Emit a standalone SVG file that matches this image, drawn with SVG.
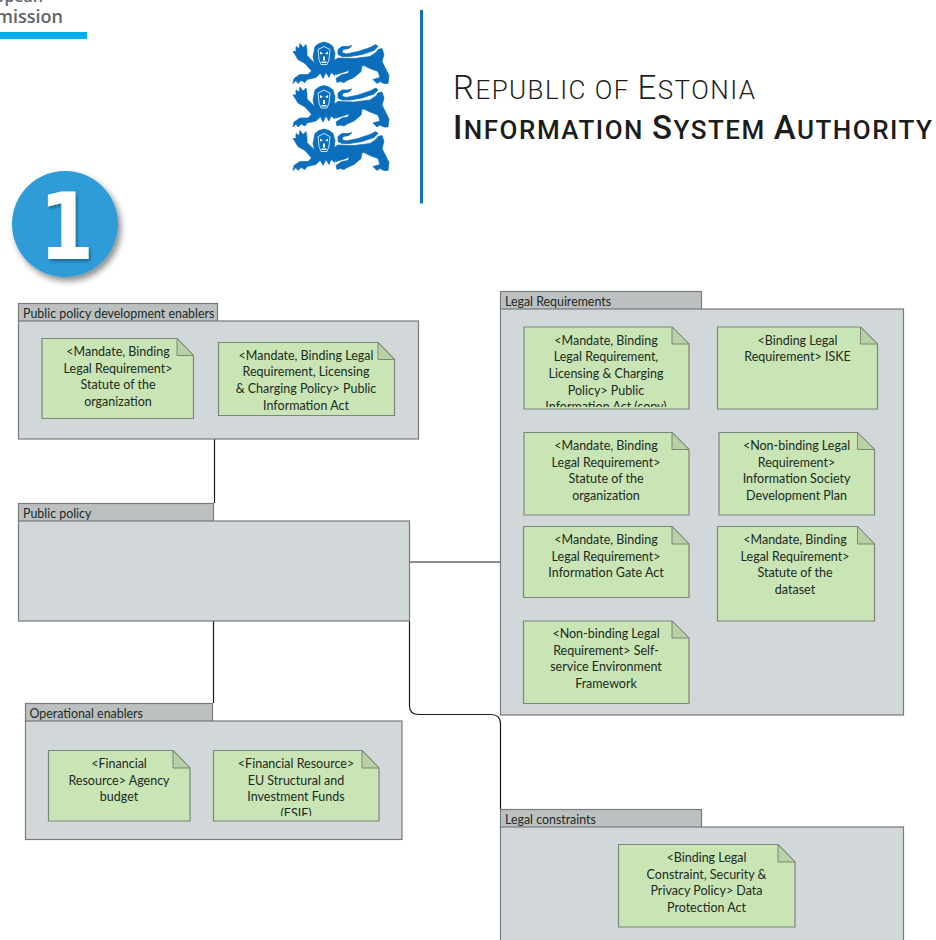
<svg xmlns="http://www.w3.org/2000/svg" xmlns:xlink="http://www.w3.org/1999/xlink" width="936" height="940" viewBox="0 0 936 940">
<style>
.body{fill:#d2d8d9;stroke:#777b7c;stroke-width:1.2}
.tab{fill:#bcc0c1;stroke:#777b7c;stroke-width:1.2}
.note{fill:#c9e5b5;stroke:#7b857b;stroke-width:1.2}
.fold{fill:#b9d0a5;stroke:#7b857b;stroke-width:1}
.t{font-family:"Lato","Liberation Sans",sans-serif;font-size:12.5px;fill:#1b2a22;text-anchor:middle}
.l{font-family:"Lato","Liberation Sans",sans-serif;font-size:12.4px;fill:#1b2a22}
.c{fill:none;stroke:#1a1a1a;stroke-width:1.2}
.h{font-family:"Roboto","Liberation Sans",sans-serif;fill:#1c1c1c}
</style>
<defs>
<filter id="sh" x="-30%" y="-30%" width="170%" height="170%"><feDropShadow dx="3" dy="4" stdDeviation="3" flood-color="#000" flood-opacity=".45"/></filter>
<filter id="sh2" x="-30%" y="-30%" width="170%" height="170%"><feDropShadow dx="2" dy="2" stdDeviation="1.5" flood-color="#0a3f66" flood-opacity=".6"/></filter>
<clipPath id="ca"><rect x="524" y="327" width="165" height="80"/></clipPath>
<clipPath id="ci"><rect x="213" y="750" width="167" height="66"/></clipPath>
<g id="lion">
<path fill="#0a6ebd" stroke="#0a6ebd" stroke-width=".7" stroke-linejoin="round" d="M4,5 L7,7 L8,2 L11,6 L14,3 L15,9 L15,14 L22,21 L25,19 L26,30 L21,31 L13,22 L6,18 L3,13 L1,10 L4,10 Z
M23,5 L27,2 L32,.5 L37,2 L41,5 L43,12 L42,20 L44,27 L43,34 L39,31 L37,36 L34,31 L31,37 L28,31 L24,34 L23,24 L21,15 Z
M24,25 L30,30 L24,36 L15,38 L13,41 L9,39 L6,42 L4,39 L1,42 L2,37 L8,33 L16,33 Z
M42,19 L46,16.5 L62,17 L78,15 L84,11 L86,8 L90,7 L92,13 L90,20 L94,28 L97,34 L96,42 L92,42 L88,40 L85,42 L81,38 L88,36 L86,30 L78,27 L72,24 L64,25 L54,30 L44,33 Z
M58,26 L70,24 L69,30 L62,36 L55,39 L52,41 L48,40 L45,41 L44,37 L50,33 L56,32 Z
M46,8 L50,5 L56,5 L60,4 L57,7 L51,8 L50,11 L54,12.5 L66,10 L78,6 L84,3 L86,5 L82,9 L70,13 L58,15 L50,15 L46,13 Z"/>
<path fill="none" stroke="#fff" stroke-width=".8" d="M26,8 L32,5 L38,8 L37,18 L35,23 L29,23 L27,18 Z"/>
<path fill="#fff" d="M28,10 L31,12 L28,13 Z M36,10 L33,12 L36,13 Z M31,15 H33 V19 H31 Z M29.500,20 H34.500 V21.500 H29.500 Z"/>
</g>
</defs>
<rect width="936" height="940" fill="#fff"/>
<g id="ec-logo">
<text x="43" y="2" text-anchor="end" font-family="'Open Sans','Liberation Sans',sans-serif" font-weight="600" font-size="16" fill="#5f6468">European</text>
<text x="63" y="23" text-anchor="end" font-family="'Open Sans','Liberation Sans',sans-serif" font-weight="600" font-size="18" fill="#5f6468">Commission</text>
<rect x="0" y="32" width="87" height="7" fill="#00aeef"/>
</g>
<g id="estonia-logo">
<use xlink:href="#lion" href="#lion" x="292" y="41.500"/>
<use xlink:href="#lion" href="#lion" x="292" y="85"/>
<use xlink:href="#lion" href="#lion" x="292" y="128.500"/>
<rect x="420" y="10" width="3" height="193.500" fill="#0f72b8"/>
<text class="h" x="453" y="99" textLength="302" lengthAdjust="spacing" font-weight="300"><tspan font-size="33">R</tspan><tspan font-size="26">EPUBLIC OF </tspan><tspan font-size="33">E</tspan><tspan font-size="26">STONIA</tspan></text>
<text class="h" x="453" y="139" textLength="479" lengthAdjust="spacing" font-weight="500"><tspan font-size="33">I</tspan><tspan font-size="26">NFORMATION </tspan><tspan font-size="33">S</tspan><tspan font-size="26">YSTEM </tspan><tspan font-size="33">A</tspan><tspan font-size="26">UTHORITY</tspan></text>
</g>
<g id="badge">
<circle cx="65" cy="224" r="53" fill="#2d9cd6" filter="url(#sh)"/>
<text transform="translate(66.500,259) scale(.85,1)" text-anchor="middle" font-family="'DejaVu Sans',sans-serif" font-weight="700" font-size="93" fill="#fff" filter="url(#sh2)">1</text>
</g>
<g id="connectors">
<path class="c" d="M214.500,439 V503"/>
<path class="c" d="M213.500,621 V703"/>
<path class="c" d="M409.500,562 H500.500"/>
<path class="c" d="M409.500,621 V706 Q409.500,714.500 419,714.500 H491 Q500.500,714.500 500.500,724 V809"/>
</g>
<g id="public-policy-development-enablers">
<rect class="tab" x="18.500" y="303.500" width="199" height="18"/>
<rect class="body" x="18.500" y="321" width="400" height="118"/>
<text class="l" x="23" y="317.500">Public policy development enablers</text>
</g>
<g id="statute-organization">
<path class="note" d="M42,338.500 H177 L193.500,355.500 V418.500 H42 Z"/><path class="fold" d="M177,338.500 L193.500,355.500 H177 Z"/>
<text class="t" x="118" y="356">&lt;Mandate, Binding</text><text class="t" x="118" y="372.700">Legal Requirement&gt;</text><text class="t" x="118" y="389.300">Statute of the</text><text class="t" x="118" y="406">organization</text>
</g>
<g id="public-information-act">
<path class="note" d="M218.500,342.500 H378 L394.500,359.500 V415.500 H218.500 Z"/><path class="fold" d="M378,342.500 L394.500,359.500 H378 Z"/>
<text class="t" x="306" y="359.500">&lt;Mandate, Binding Legal</text><text class="t" x="306" y="376.200">Requirement, Licensing</text><text class="t" x="306" y="392.800">&amp; Charging Policy&gt; Public</text><text class="t" x="306" y="409.500">Information Act</text>
</g>
<g id="public-policy">
<rect class="tab" x="18.500" y="503.500" width="195" height="18"/>
<rect class="body" x="18.500" y="521" width="391" height="100"/>
<text class="l" x="23" y="517.500">Public policy</text>
</g>
<g id="legal-requirements">
<rect class="tab" x="500.500" y="291.500" width="201" height="18"/>
<rect class="body" x="500.500" y="309" width="403" height="406"/>
<text class="l" x="505" y="305.500">Legal Requirements</text>
</g>
<g id="public-information-act-copy">
<path class="note" d="M524,327 H672 L689,344 V409 H524 Z"/><path class="fold" d="M672,327 L689,344 H672 Z"/>
<g clip-path="url(#ca)"><text class="t" x="606" y="344.500">&lt;Mandate, Binding</text><text class="t" x="606" y="361.200">Legal Requirement,</text><text class="t" x="606" y="377.800">Licensing &amp; Charging</text><text class="t" x="606" y="394.500">Policy&gt; Public</text><text class="t" x="606" y="411.200">Information Act (copy)</text></g>
</g>
<g id="iske">
<path class="note" d="M717.500,327 H860.500 L877.500,344 V409 H717.500 Z"/><path class="fold" d="M860.500,327 L877.500,344 H860.500 Z"/>
<text class="t" x="797.500" y="344.500">&lt;Binding Legal</text><text class="t" x="797.500" y="361.200">Requirement&gt; ISKE</text>
</g>
<g id="statute-organization-2">
<path class="note" d="M524,432.500 H672 L689,449.500 V515 H524 Z"/><path class="fold" d="M672,432.500 L689,449.500 H672 Z"/>
<text class="t" x="606" y="450">&lt;Mandate, Binding</text><text class="t" x="606" y="466.700">Legal Requirement&gt;</text><text class="t" x="606" y="483.300">Statute of the</text><text class="t" x="606" y="500">organization</text>
</g>
<g id="information-society-plan">
<path class="note" d="M719,432.500 H857.500 L874.500,449.500 V515 H719 Z"/><path class="fold" d="M857.500,432.500 L874.500,449.500 H857.500 Z"/>
<text class="t" x="796.500" y="450">&lt;Non-binding Legal</text><text class="t" x="796.500" y="466.700">Requirement&gt;</text><text class="t" x="796.500" y="483.300">Information Society</text><text class="t" x="796.500" y="500">Development Plan</text>
</g>
<g id="information-gate-act">
<path class="note" d="M523.500,526.500 H672 L689,544 V597.500 H523.500 Z"/><path class="fold" d="M672,526.500 L689,544 H672 Z"/>
<text class="t" x="606" y="544">&lt;Mandate, Binding</text><text class="t" x="606" y="560.700">Legal Requirement&gt;</text><text class="t" x="606" y="577.300">Information Gate Act</text>
</g>
<g id="statute-dataset">
<path class="note" d="M717.500,526.500 H857.500 L874.500,544 V621 H717.500 Z"/><path class="fold" d="M857.500,526.500 L874.500,544 H857.500 Z"/>
<text class="t" x="795" y="544">&lt;Mandate, Binding</text><text class="t" x="795" y="560.700">Legal Requirement&gt;</text><text class="t" x="795" y="577.300">Statute of the</text><text class="t" x="795" y="594">dataset</text>
</g>
<g id="self-service-framework">
<path class="note" d="M523.500,621 H672 L689,638 V703.500 H523.500 Z"/><path class="fold" d="M672,621 L689,638 H672 Z"/>
<text class="t" x="606" y="638">&lt;Non-binding Legal</text><text class="t" x="606" y="654.700">Requirement&gt; Self-</text><text class="t" x="606" y="671.300">service Environment</text><text class="t" x="606" y="688">Framework</text>
</g>
<g id="operational-enablers">
<rect class="tab" x="25.500" y="703.500" width="187" height="18"/>
<rect class="body" x="25.500" y="721" width="376.500" height="118.500"/>
<text class="l" x="29.500" y="718">Operational enablers</text>
</g>
<g id="agency-budget">
<path class="note" d="M48.500,750.500 H173 L190,768 V821 H48.500 Z"/><path class="fold" d="M173,750.500 L190,768 H173 Z"/>
<text class="t" x="119" y="768">&lt;Financial</text><text class="t" x="119" y="784.700">Resource&gt; Agency</text><text class="t" x="119" y="801.300">budget</text>
</g>
<g id="esif">
<path class="note" d="M213.500,750.500 H362 L379,768 V821 H213.500 Z"/><path class="fold" d="M362,750.500 L379,768 H362 Z"/>
<g clip-path="url(#ci)"><text class="t" x="296" y="768">&lt;Financial Resource&gt;</text><text class="t" x="296" y="784.700">EU Structural and</text><text class="t" x="296" y="801.300">Investment Funds</text><text class="t" x="296" y="818">(ESIF)</text></g>
</g>
<g id="legal-constraints">
<rect class="tab" x="500.500" y="809.500" width="201" height="18"/>
<rect class="body" x="500.500" y="827" width="403" height="120"/>
<text class="l" x="505" y="823.500">Legal constraints</text>
</g>
<g id="data-protection-act">
<path class="note" d="M618.500,844.500 H778 L795,862 V927 H618.500 Z"/><path class="fold" d="M778,844.500 L795,862 H778 Z"/>
<text class="t" x="706.500" y="862">&lt;Binding Legal</text><text class="t" x="706.500" y="878.700">Constraint, Security &amp;</text><text class="t" x="706.500" y="895.300">Privacy Policy&gt; Data</text><text class="t" x="706.500" y="912">Protection Act</text>
</g>
</svg>
